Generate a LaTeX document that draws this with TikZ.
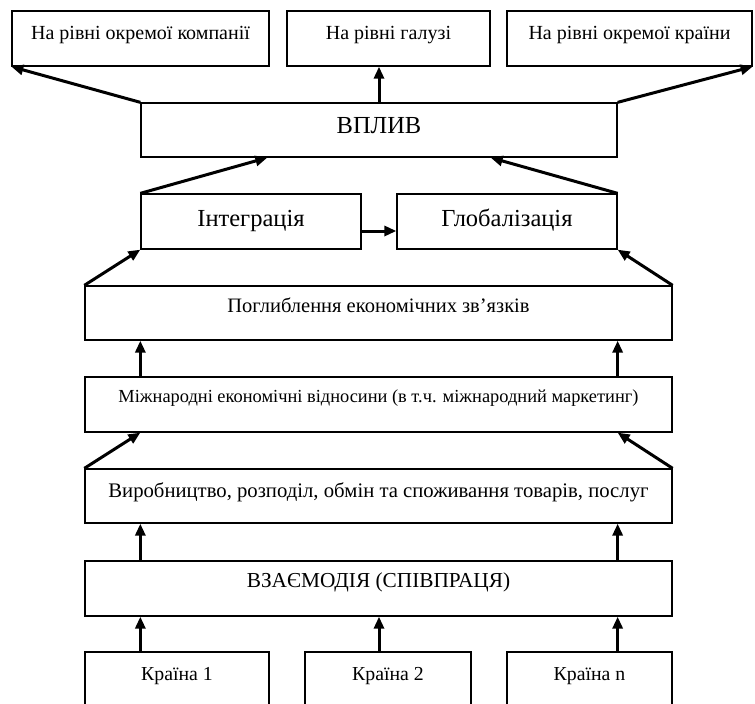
\documentclass[tikz,border=0pt]{standalone}
\usepackage{fontspec}
\setmainfont{Liberation Serif}
\usetikzlibrary{arrows.meta}
\tikzset{
  every picture/.style={line join=miter, x=1pt, y=-1pt},
  box/.style={draw, line width=1.3pt, inner sep=0pt, text height=0pt, text depth=0pt},
  arr/.style={line width=3pt, -{Triangle[length=12pt,width=10pt]}},
}
\newcommand{\fs}[1]{\fontsize{#1}{#1}\selectfont}

\begin{document}
\begin{tikzpicture}
\clip (0,0) rectangle (755,704);
% top level
\node[box, minimum width=257pt, minimum height=55pt, text height=1pt, font=\fs{20}] (comp) at (140.5,38.5) {На рівні окремої компанії};
\node[box, minimum width=203pt, minimum height=55pt, text height=1pt, font=\fs{20}] (galuz) at (388.5,38.5) {На рівні галузі};
\node[box, minimum width=245pt, minimum height=55pt, text height=1pt, font=\fs{20}] (krain) at (629.5,38.5) {На рівні окремої країни};
\node[box, minimum width=476pt, minimum height=54pt, text height=6pt, font=\fs{24.5}] (vplyv) at (379,130) {ВПЛИВ};
% integration / globalisation
\node[box, minimum width=220pt, minimum height=55pt, text height=9pt, font=\fs{24.5}] (integ) at (251,221.5) {Інтеграція};
\node[box, minimum width=220pt, minimum height=55pt, text height=9pt, font=\fs{24.5}] (glob) at (507,221.5) {Глобалізація};
% wide boxes
\node[box, minimum width=587pt, minimum height=54pt, text depth=2pt, font=\fs{20.5}] (pohl) at (378.5,313) {Поглиблення економічних зв’язків};
\node[box, minimum width=587pt, minimum height=55pt, text depth=5pt, font=\fs{18.4}] (mizh) at (378.5,404.5) {Міжнародні економічні відносини (в т.ч. міжнародний маркетинг)};
\node[box, minimum width=587pt, minimum height=54pt, text height=2pt, font=\fs{20.7}] (vyrob) at (378.5,496) {Виробництво, розподіл, обмін та споживання товарів, послуг};
\node[box, minimum width=587pt, minimum height=55pt, text depth=3pt, font=\fs{21.3}] (vzaem) at (378.5,588.5) {ВЗАЄМОДІЯ (СПІВПРАЦЯ)};
% countries
\node[box, minimum width=184pt, minimum height=68pt, text depth=12pt, font=\fs{19.8}] (k1) at (177,686) {Країна 1};
\node[box, minimum width=166pt, minimum height=68pt, text depth=12pt, font=\fs{19.8}] (k2) at (388,686) {Країна 2};
\node[box, minimum width=165pt, minimum height=68pt, text depth=12pt, font=\fs{19.8}] (k3) at (589.5,686) {Країна n};

% arrows
\draw[arr] (vplyv.north west) -- (comp.south west);
\draw[arr] (vplyv.north) -- (vplyv.north |- galuz.south);
\draw[arr] (vplyv.north east) -- (krain.south east);
\draw[arr] (integ.north west) -- ([xshift=127pt]vplyv.south west);
\draw[arr] (glob.north east) -- ([xshift=-127pt]vplyv.south east);
\draw[arr] ([yshift=-9.5pt]integ.east) -- ([yshift=-9.5pt]integ.east -| glob.west);
\draw[arr] (pohl.north west) -- (integ.south west);
\draw[arr] (pohl.north east) -- (glob.south east);
\draw[arr] (mizh.north -| integ.west) -- (pohl.south -| integ.west);
\draw[arr] (mizh.north -| glob.east) -- (pohl.south -| glob.east);
\draw[arr] (vyrob.north west) -- (mizh.south -| integ.west);
\draw[arr] (vyrob.north east) -- (mizh.south -| glob.east);
\draw[arr] (vzaem.north -| integ.west) -- (vyrob.south -| integ.west);
\draw[arr] (vzaem.north -| glob.east) -- (vyrob.south -| glob.east);
\draw[arr] (k1.north -| integ.west) -- (vzaem.south -| integ.west);
\draw[arr] (k2.north -| vplyv.north) -- (vzaem.south -| vplyv.north);
\draw[arr] (k3.north -| glob.east) -- (vzaem.south -| glob.east);
\end{tikzpicture}
\end{document}
